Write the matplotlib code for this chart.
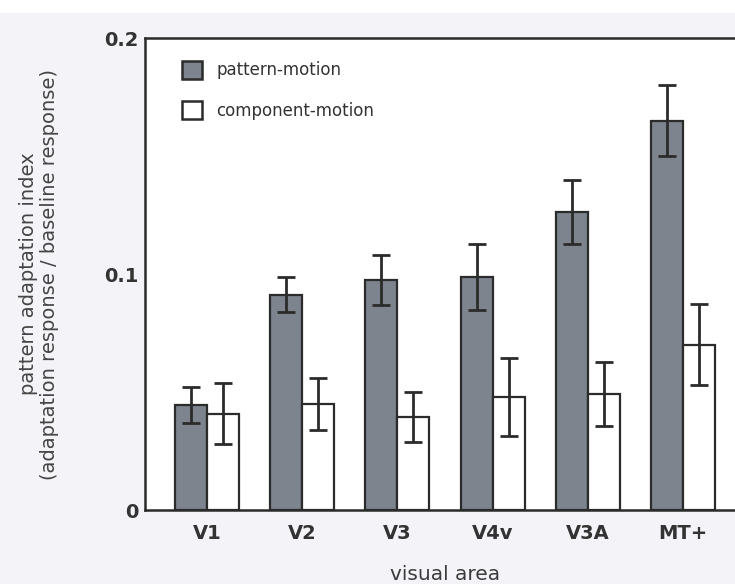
import numpy as np
import matplotlib
matplotlib.use("Agg")
import matplotlib.pyplot as plt

areas = ["V1", "V2", "V3", "V4v", "V3A", "MT+"]
pattern = [0.0446, 0.0913, 0.0974, 0.0988, 0.1263, 0.1649]
pattern_err = [0.0077, 0.0074, 0.0106, 0.0140, 0.0135, 0.0151]
component = [0.0408, 0.0450, 0.0395, 0.0478, 0.0491, 0.0701]
component_err = [0.0130, 0.0110, 0.0105, 0.0166, 0.0136, 0.0173]

bg = "#f4f3f7"
gray = "#7e848e"
ink = "#2b2b2b"

fig = plt.figure(figsize=(7.35, 5.84), dpi=100, facecolor=bg)
# white strip along the top edge
fig.patches.append(plt.Rectangle((0, 1 - 13 / 584), 1, 13 / 584, transform=fig.transFigure,
                                 facecolor="white", edgecolor="none", zorder=0))

ax = fig.add_axes([145 / 735, 74 / 584, 600 / 735, 472 / 584])
x = np.arange(len(areas))
w = 0.335

ax.bar(x - w / 2, pattern, w, color=gray, edgecolor=ink, linewidth=1.6, label="pattern-motion")
ax.bar(x + w / 2, component, w, color="white", edgecolor=ink, linewidth=1.6, label="component-motion")
ax.errorbar(x - w / 2, pattern, yerr=pattern_err, fmt="none", ecolor=ink, elinewidth=2, capsize=6.5, capthick=2)
ax.errorbar(x + w / 2, component, yerr=component_err, fmt="none", ecolor=ink, elinewidth=2, capsize=6.5, capthick=2)

ax.set_xlim(-0.65, 5.65)
ax.set_ylim(0, 0.2)
ax.set_yticks([0, 0.1, 0.2])
ax.set_yticklabels(["0", "0.1", "0.2"])
ax.set_xticks(x)
ax.set_xticklabels(areas)
ax.tick_params(axis="both", length=0, labelsize=14, labelcolor="#333333")
ax.tick_params(axis="y", pad=5)
ax.tick_params(axis="x", pad=10)
for lab in ax.get_xticklabels() + ax.get_yticklabels():
    lab.set_fontweight("bold")

for s in ["left", "bottom", "top"]:
    ax.spines[s].set_linewidth(1.8)
    ax.spines[s].set_color(ink)
ax.spines["right"].set_visible(False)

ax.set_xlabel("visual area", fontsize=14.5, color="#3a3a3a", labelpad=16)
fig.text(39 / 735, 1 - 274 / 584, "pattern adaptation index\n(adaptation response / baseline response)",
         rotation=90, ha="center", va="center", fontsize=14, color="#444444", linespacing=1.1,
         multialignment="center")

leg = ax.legend(loc="upper left", bbox_to_anchor=((182 - 145) / 600, (510 - 61) / 472), frameon=False,
                fontsize=12, handlelength=1.2, handleheight=1.25, handletextpad=0.85,
                labelspacing=1.3, borderpad=0, borderaxespad=0, labelcolor="#333333")
for h in leg.legend_handles:
    h.set_linewidth(1.8)

fig.savefig("out.png", dpi=100, facecolor=bg)
